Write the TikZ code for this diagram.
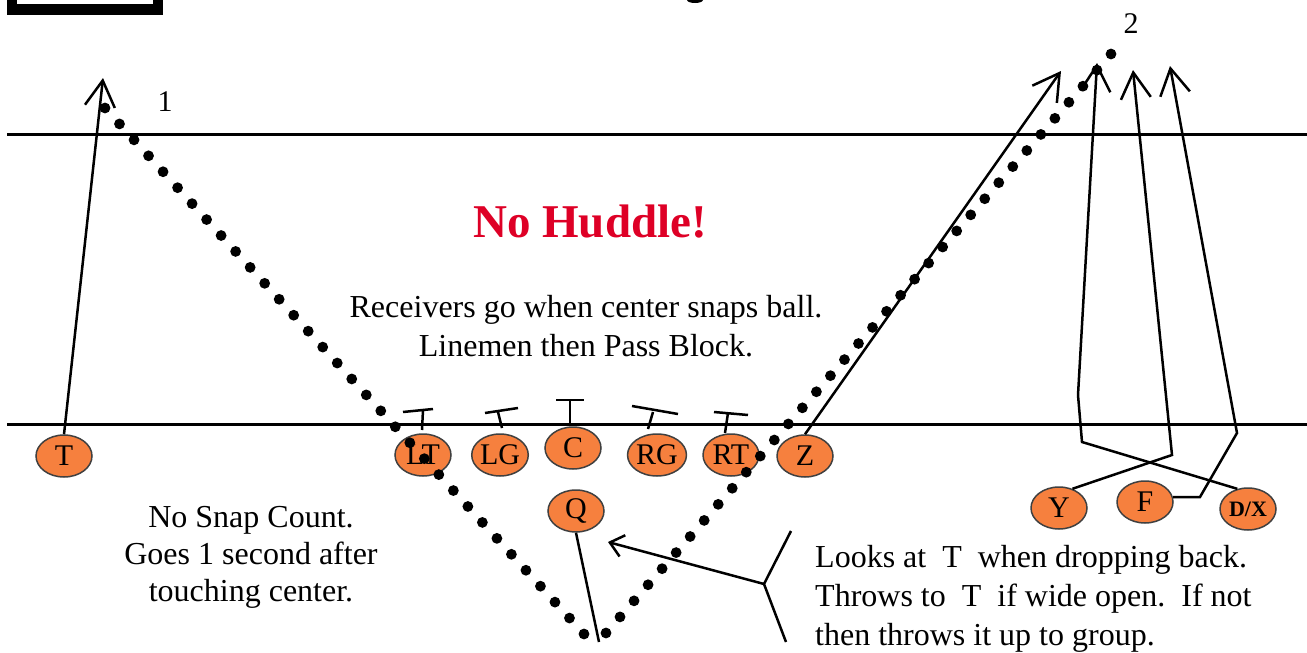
\documentclass[tikz,border=0pt]{standalone}
\usepackage{fontspec}
\setmainfont{Liberation Serif}
\usetikzlibrary{shapes.geometric,arrows.meta,calc}
\definecolor{playerorange}{RGB}{246,128,62}
\definecolor{huddlered}{RGB}{222,0,38}
\begin{document}
\begin{tikzpicture}[x=1pt,y=-1pt,
  player/.style={ellipse,draw=black!75,line width=1.5pt,fill=playerorange,
    minimum width=56pt,minimum height=42pt,inner sep=0pt,
    font=\fontsize{30}{30}\selectfont},
  fieldline/.style={line width=3pt},
  route/.style={line width=2.5pt},
  blockmark/.style={line width=2.5pt},
  txt/.style={font=\fontsize{32}{38}\selectfont,inner sep=0pt,anchor=base},
  txtleft/.style={txt,anchor=base west},
  bigtip/.style={-{Straight Barb[length=26pt,width=30pt]}},
  smalltip/.style={-{Straight Barb[length=13pt,width=22pt]}}]
\useasboundingbox (0,0) rectangle (1307,653);
\clip (0,0) rectangle (1307,653);

% top-left frame (cut off) and cut-off title descender
\draw[line width=10.5pt] (12,-30) rectangle (158,9.5);
\fill (695,0) ellipse (8pt and 3pt);

% field lines
\draw[fieldline] (7,134.5) -- (1307,134.5);
\draw[fieldline] (7,424) -- (1307,424);

% players
\node[player] (T)  at (64,456)  {T};
\node[player] (LT) at (423,455) {LT};
\node[player] (LG) at (500,455) {LG};
\node[player] (C)  at (573,448) {C};
\node[player] (RG) at (657,455) {RG};
\node[player] (RT) at (731,455) {RT};
\node[player] (Z)  at (805,456) {Z};
\node[player] (Q)  at (576,511) {Q};
\node[player] (Y)  at (1059,508) {Y};
\node[player] (F)  at (1145,502) {F};
\node[player,font=\fontsize{22}{22}\selectfont\bfseries] (DX) at (1248,509) {D/X};

% block marks
\draw[blockmark] (422,430) -- (423,410) (403,412) -- (433,409);
\draw[blockmark] (502,428) -- (498,412) (485,413) -- (518,408);
\draw[blockmark] (570,423) -- (570,400) (556,400) -- (584,400);
\draw[blockmark] (648,429) -- (653,412) (632,406) -- (678,414);
\draw[blockmark] (725,433) -- (728,413) (714,412) -- (748,415);

% routes
\coordinate (tT) at (103,78);
\coordinate (tZ) at (1061,71);
\coordinate (tDX) at (1097,63);
\coordinate (tY) at (1133,70);
\coordinate (tF) at (1170,66);
\draw[route,bigtip] (T.north) -- (tT);
\draw[route,bigtip] (Z.north) -- (tZ);
\draw[route,bigtip] (DX.118) -- (1082,442) -- (1078,395) -- (tDX);
\draw[route,bigtip] (Y.55) -- (1172,455) -- (tY);
\draw[route,bigtip] (F.10) -- (1200,497) -- (1237,433) -- (tF);

% quarterback drop line
\coordinate (qEnd) at (599,642);
\draw[route] (Q.south) -- (qEnd);

% comment bracket with arrow
\coordinate (br) at (764,584);
\coordinate (brTop) at (791,531);
\coordinate (brBot) at (786,642);
\coordinate (cTip) at (608,542);
\draw[route,smalltip] (br) -- (cTip);
\draw[route] (brTop) -- (br) -- (brBot);

% dotted pass path
\coordinate (d1s) at (105,108);
\coordinate (d1e) at (584,634);
\coordinate (d2s) at (606,633);
\coordinate (d2e) at (1111,54);
\foreach \i in {0,...,33} \fill ($(d1s)!\i/33!(d1e)$) circle (5.4pt);
\foreach \i in {0,...,36} \fill ($(d2s)!\i/36!(d2e)$) circle (5.4pt);

% labels
\node[txt,font=\fontsize{30}{30}\selectfont] (one) at (165,111) {1};
\node[txt,font=\fontsize{30}{30}\selectfont] (two) at (1131,33) {2};
\node[txt,font=\fontsize{47}{47}\selectfont\bfseries,text=huddlered] (title) at (590,237) {No Huddle!};
\node[txt] (recvA) at (586,317) {Receivers go when center snaps ball.};
\node[txt] (recvB) at (586,356) {Linemen then Pass Block.};
\node[txt] (snapA) at (251,527) {No Snap Count.};
\node[txt] (snapB) at (251,564) {Goes 1 second after};
\node[txt] (snapC) at (251,601) {touching center.};
\node[txtleft] (looksA) at (815,567) {Looks at\ \ T\ \ when dropping back.};
\node[txtleft] (looksB) at (815,606) {Throws to\ \ T\ \ if wide open.\ \ If not};
\node[txtleft] (looksC) at (815,645) {then throws it up to group.};
\end{tikzpicture}
\end{document}
